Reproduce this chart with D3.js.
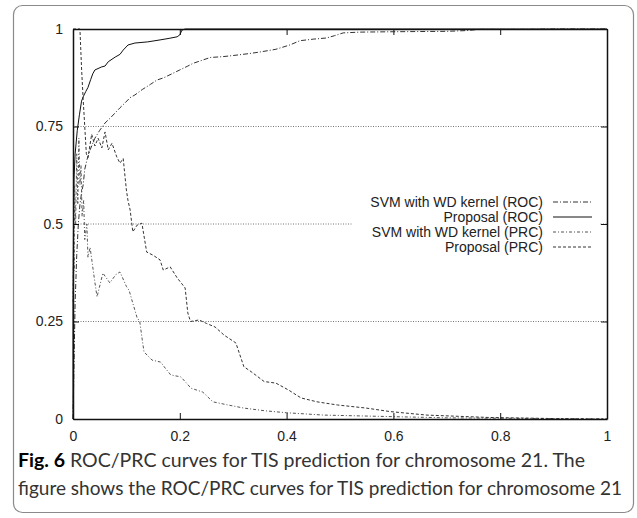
<!DOCTYPE html>
<meta charset="utf-8">
<script src="https://d3js.org/d3.v7.min.js"></script>
<style>
  body { margin: 0; background: #fff; }
</style>
<div id="chart"></div>
<script>

// curve data: [x, y] pairs
var svmRoc = [[0,0],[0.002,0.15],[0.004,0.3],[0.007,0.42],[0.01,0.5],[0.013,0.55],[0.016,0.58],[0.019,0.6],
  [0.022,0.64],[0.026,0.664],[0.032,0.69],[0.041,0.72],[0.05,0.74],[0.06,0.759],[0.07,0.772],[0.079,0.785],
  [0.088,0.798],[0.097,0.81],[0.107,0.824],[0.116,0.831],[0.13,0.845],[0.145,0.858],[0.157,0.869],[0.17,0.875],
  [0.185,0.885],[0.2,0.895],[0.215,0.905],[0.225,0.912],[0.238,0.918],[0.257,0.927],[0.28,0.929],[0.3,0.932],
  [0.33,0.937],[0.35,0.941],[0.38,0.948],[0.406,0.959],[0.425,0.97],[0.45,0.974],[0.475,0.977],[0.49,0.983],
  [0.506,0.99],[0.537,0.992],[0.6,0.993],[0.7,0.994],[0.738,0.996],[0.76,0.999],[0.85,0.999],[0.9,1],[1,1]];

var propRoc = [[0,0],[0,0.3],[0.001,0.5],[0.002,0.62],[0.004,0.68],[0.008,0.74],[0.012,0.78],[0.016,0.815],
  [0.019,0.826],[0.024,0.84],[0.028,0.85],[0.033,0.87],[0.037,0.885],[0.041,0.895],[0.054,0.903],[0.06,0.905],
  [0.066,0.916],[0.079,0.928],[0.088,0.935],[0.094,0.946],[0.103,0.959],[0.116,0.964],[0.14,0.967],[0.163,0.972],
  [0.18,0.976],[0.195,0.98],[0.2,0.985],[0.204,0.997],[0.21,1],[1,1]];

var svmPrc = [[0,0.3],[0.001,0.45],[0.002,0.38],[0.003,0.6],[0.005,0.5],[0.007,0.68],[0.009,0.55],[0.011,0.72],
  [0.013,0.6],[0.015,0.65],[0.017,0.52],[0.02,0.56],[0.022,0.46],[0.026,0.5],[0.028,0.415],[0.032,0.44],
  [0.035,0.41],[0.04,0.36],[0.045,0.313],[0.056,0.374],[0.069,0.349],[0.08,0.37],[0.088,0.377],[0.1,0.34],
  [0.105,0.33],[0.112,0.297],[0.12,0.26],[0.125,0.25],[0.13,0.2],[0.133,0.172],[0.148,0.151],[0.164,0.146],
  [0.173,0.13],[0.183,0.113],[0.202,0.108],[0.221,0.079],[0.243,0.069],[0.262,0.044],[0.29,0.036],[0.32,0.028],
  [0.36,0.021],[0.4,0.016],[0.47,0.01],[0.6,0.006],[0.7,0.003],[0.8,0.002],[0.9,0.001],[1,0]];

var propPrc = [[0,1],[0.013,1],[0.016,0.9],[0.019,0.82],[0.022,0.75],[0.025,0.68],[0.028,0.67],[0.035,0.73],
  [0.041,0.7],[0.047,0.72],[0.054,0.695],[0.06,0.736],[0.066,0.69],[0.073,0.707],[0.082,0.672],[0.088,0.656],
  [0.094,0.668],[0.1,0.587],[0.103,0.56],[0.107,0.536],[0.112,0.48],[0.12,0.497],[0.129,0.502],[0.138,0.428],
  [0.15,0.42],[0.163,0.408],[0.169,0.382],[0.182,0.39],[0.195,0.362],[0.21,0.336],[0.215,0.272],[0.22,0.25],
  [0.236,0.254],[0.25,0.245],[0.266,0.236],[0.283,0.215],[0.305,0.195],[0.32,0.134],[0.335,0.12],[0.358,0.096],
  [0.38,0.092],[0.404,0.074],[0.427,0.054],[0.457,0.044],[0.495,0.036],[0.549,0.028],[0.594,0.019],[0.663,0.01],
  [0.777,0.004],[0.906,0.001],[1,0]];

var legendLabels = ["SVM with WD kernel (ROC)", "Proposal (ROC)", "SVM with WD kernel (PRC)", "Proposal (PRC)"];
var xTicks = [0, 0.2, 0.4, 0.6, 0.8, 1];
var yTicks = [0, 0.25, 0.5, 0.75, 1];
var gridTicks = [0.25, 0.5, 0.75];
var captionBold = "Fig. 6";
var captionLine1 = " ROC/PRC curves for TIS prediction for chromosome 21. The";
var captionLine2 = "figure shows the ROC/PRC curves for TIS prediction for chromosome 21";

var W = 637, H = 518;
var margin = {top: 29, right: 30, bottom: 99, left: 73};
var width = W - margin.left - margin.right,
    height = H - margin.top - margin.bottom;

var svg = d3.select("#chart").append("svg")
    .attr("width", W).attr("height", H);

// rounded outer frame
svg.append("rect")
    .attr("x", 13.5).attr("y", 5.5)
    .attr("width", 620).attr("height", 507)
    .attr("rx", 9)
    .attr("fill", "none")
    .attr("stroke", "#8a8a8a")
    .attr("stroke-width", 1.2);

var g = svg.append("g")
    .attr("transform", "translate(" + margin.left + "," + margin.top + ")");

var x = d3.scaleLinear().domain([0, 1]).range([0, width]);
var y = d3.scaleLinear().domain([0, 1]).range([height, 0]);

// dotted horizontal grid
g.selectAll(".grid").data(gridTicks).enter().append("line")
    .attr("x1", 0).attr("x2", width)
    .attr("y1", function(d) { return y(d); })
    .attr("y2", function(d) { return y(d); })
    .attr("stroke", "#555")
    .attr("stroke-width", 0.8)
    .attr("stroke-dasharray", "1,1.5");

// white key box hides the grid behind it
g.append("rect")
    .attr("x", 280).attr("y", 165)
    .attr("width", 247).attr("height", 60)
    .attr("fill", "#fff");

var line = d3.line()
    .x(function(d) { return x(d[0]); })
    .y(function(d) { return y(d[1]); });

var series = [
  {data: svmRoc, dash: "5,2,1,2", color: "#333"},
  {data: propRoc, dash: null, color: "#111"},
  {data: svmPrc, dash: "3,2,1,2", color: "#555"},
  {data: propPrc, dash: "3,2", color: "#333"}
];

series.forEach(function(s) {
  g.append("path")
      .datum(s.data)
      .attr("fill", "none")
      .attr("stroke", s.color)
      .attr("stroke-width", 1)
      .attr("stroke-dasharray", s.dash)
      .attr("d", line);
});

// axes with inward ticks on all four sides
var font = "'Liberation Sans', Arial, sans-serif";
g.append("g")
    .attr("transform", "translate(0," + height + ")")
    .call(d3.axisBottom(x).tickValues(xTicks).tickSizeInner(-6).tickSizeOuter(0).tickPadding(12)
      .tickFormat(function(d) { return d; }));
g.append("g")
    .call(d3.axisTop(x).tickValues(xTicks).tickSizeInner(-6).tickSizeOuter(0).tickFormat(""));
g.append("g")
    .call(d3.axisLeft(y).tickValues(yTicks).tickSizeInner(-6).tickSizeOuter(0).tickPadding(10)
      .tickFormat(function(d) { return d; }));
g.append("g")
    .attr("transform", "translate(" + width + ",0)")
    .call(d3.axisRight(y).tickValues(yTicks).tickSizeInner(-6).tickSizeOuter(0).tickFormat(""));

g.selectAll(".domain").attr("stroke", "#111").attr("stroke-width", 1.5);
g.selectAll(".tick line").attr("stroke", "#111");
g.selectAll(".tick text")
    .style("font-family", font)
    .style("font-size", "14px")
    .attr("fill", "#222");

// key
var key = g.append("g");
legendLabels.forEach(function(label, i) {
  var ky = 173 + i * 15;
  key.append("text")
      .attr("x", 470).attr("y", ky)
      .attr("dy", "0.35em")
      .attr("text-anchor", "end")
      .style("font-family", font)
      .style("font-size", "14px")
      .attr("fill", "#222")
      .text(label);
  key.append("line")
      .attr("x1", 480).attr("x2", 519)
      .attr("y1", ky).attr("y2", ky)
      .attr("stroke", series[i].color)
      .attr("stroke-width", 1)
      .attr("stroke-dasharray", series[i].dash);
});

// caption
var capFont = "Lato, 'Open Sans', sans-serif";
var c1 = svg.append("text")
    .attr("x", 18).attr("y", 467)
    .attr("textLength", 567)
    .attr("lengthAdjust", "spacingAndGlyphs")
    .style("font-family", capFont)
    .style("font-size", "19px")
    .attr("fill", "#333");
c1.append("tspan").style("font-weight", "bold").attr("fill", "#000").text(captionBold);
c1.append("tspan").text(captionLine1);

svg.append("text")
    .attr("x", 18).attr("y", 495)
    .attr("textLength", 604)
    .attr("lengthAdjust", "spacingAndGlyphs")
    .style("font-family", capFont)
    .style("font-size", "19px")
    .attr("fill", "#333")
    .text(captionLine2);

</script>
